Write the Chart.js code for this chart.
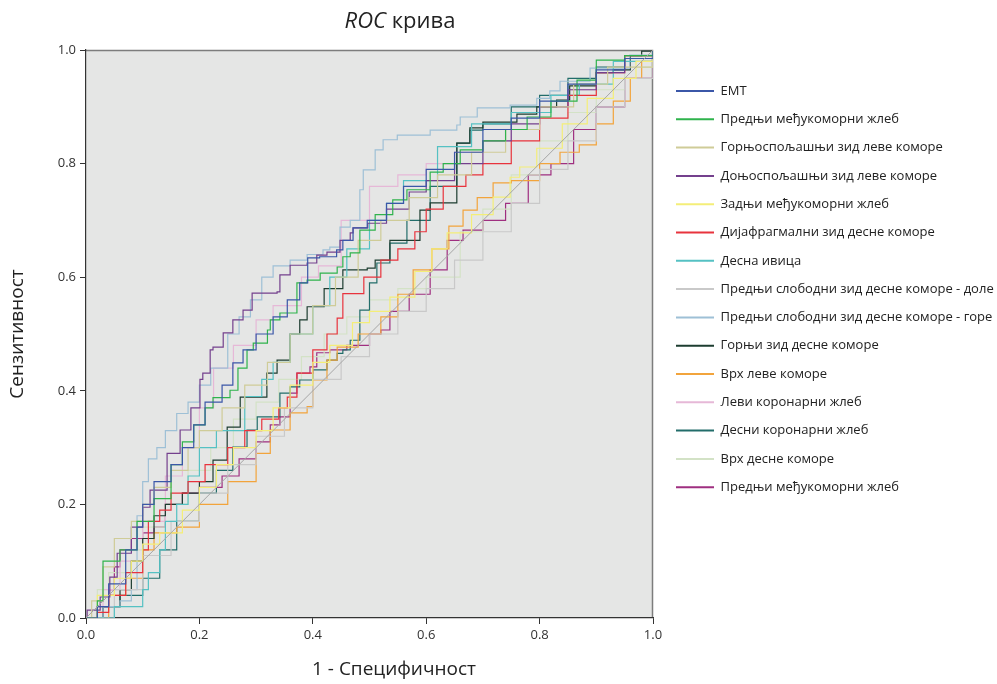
<!DOCTYPE html>
<html><head><meta charset="utf-8">
<script src="https://cdn.jsdelivr.net/npm/chart.js@4"></script>
<style>html,body{margin:0;padding:0;background:#fff}#wrap{width:997px;height:684px}</style>
</head><body><div id="wrap"><canvas id="c" width="997" height="684"></canvas></div>
<script>
const seriesNames = ["EMT","Предњи међукоморни жлеб","Горњоспољашњи зид леве коморе","Доњоспољашњи зид леве коморе","Задњи међукоморни жлеб","Дијафрагмални зид десне коморе","Десна ивица","Предњи слободни зид десне коморе - доле","Предњи слободни зид десне коморе - горе","Горњи зид десне коморе","Врх леве коморе","Леви коронарни жлеб","Десни коронарни жлеб","Врх десне коморе","Предњи међукоморни жлеб"];
const tickLabels = ["0.0","0.2","0.4","0.6","0.8","1.0"];

const fprEMT = [0,0.02,0.04,0.07,0.09,0.1,0.12,0.15,0.17,0.19,0.21,0.24,0.259,0.277,0.3,0.33,0.355,0.377,0.391,0.412,0.442,0.453,0.471,0.496,0.53,0.56,0.6,0.65,0.7,0.75,0.8,0.85,0.9,0.95,1];
const tprEMT = [0,0.02,0.06,0.12,0.16,0.2,0.24,0.27,0.3,0.34,0.38,0.41,0.449,0.472,0.5,0.53,0.56,0.59,0.634,0.636,0.648,0.665,0.687,0.70,0.73,0.76,0.79,0.82,0.86,0.88,0.91,0.94,0.965,0.985,1];

const fprAIV = [0,0.02,0.03,0.06,0.09,0.12,0.15,0.17,0.19,0.21,0.224,0.254,0.268,0.284,0.295,0.32,0.325,0.342,0.372,0.39,0.413,0.443,0.453,0.466,0.483,0.51,0.541,0.566,0.607,0.63,0.66,0.7,0.74,0.778,0.82,0.866,0.9,0.95,1];
const tprAIV = [0,0.03,0.1,0.12,0.17,0.21,0.27,0.31,0.34,0.37,0.388,0.401,0.44,0.472,0.484,0.507,0.525,0.537,0.59,0.595,0.607,0.618,0.636,0.643,0.683,0.71,0.736,0.754,0.785,0.80,0.824,0.84,0.86,0.882,0.91,0.947,0.982,0.99,1];

const fprULV = [0,0.01,0.03,0.05,0.08,0.1,0.12,0.15,0.18,0.2,0.24,0.28,0.32,0.36,0.4,0.44,0.48,0.52,0.57,0.62,0.68,0.74,0.8,0.86,0.92,1];
const tprULV = [0,0.03,0.09,0.14,0.17,0.2,0.23,0.26,0.3,0.33,0.37,0.41,0.45,0.5,0.55,0.6,0.665,0.7,0.74,0.78,0.82,0.86,0.9,0.94,0.97,1];

const fprLLV = [0,0.002,0.025,0.042,0.055,0.08,0.1,0.113,0.143,0.166,0.185,0.201,0.206,0.219,0.224,0.242,0.259,0.277,0.293,0.337,0.342,0.36,0.39,0.407,0.425,0.448,0.466,0.471,0.497,0.53,0.57,0.6,0.65,0.7,0.75,0.8,0.85,0.9,0.95,1];
const tprLLV = [0,0.014,0.037,0.072,0.114,0.16,0.195,0.225,0.29,0.331,0.37,0.42,0.431,0.472,0.477,0.502,0.525,0.542,0.572,0.574,0.604,0.621,0.625,0.639,0.644,0.665,0.678,0.687,0.695,0.72,0.75,0.77,0.80,0.84,0.87,0.9,0.93,0.96,0.985,1];

const fprPIV = [0,0.02,0.05,0.08,0.1,0.13,0.17,0.2,0.23,0.26,0.3,0.33,0.36,0.4,0.43,0.47,0.5,0.536,0.58,0.61,0.637,0.68,0.718,0.748,0.765,0.795,0.84,0.884,0.93,0.97,1];
const tprPIV = [0,0.04,0.07,0.1,0.13,0.15,0.19,0.23,0.27,0.3,0.33,0.37,0.41,0.45,0.48,0.52,0.54,0.565,0.61,0.65,0.678,0.71,0.741,0.776,0.794,0.827,0.87,0.915,0.95,0.98,1];

const fprDRV = [0,0.02,0.04,0.07,0.1,0.11,0.13,0.15,0.18,0.21,0.25,0.28,0.31,0.34,0.355,0.372,0.4,0.425,0.425,0.443,0.453,0.466,0.49,0.52,0.55,0.58,0.6,0.63,0.67,0.7,0.75,0.8,0.85,0.9,0.95,1];
const tprDRV = [0,0.01,0.04,0.08,0.12,0.17,0.19,0.22,0.24,0.27,0.3,0.33,0.35,0.37,0.389,0.431,0.472,0.472,0.5,0.528,0.571,0.571,0.6,0.63,0.65,0.68,0.72,0.76,0.78,0.8,0.84,0.88,0.92,0.96,0.99,1];

const fprRM = [0,0.05,0.1,0.11,0.13,0.14,0.16,0.18,0.2,0.23,0.28,0.31,0.33,0.36,0.4,0.43,0.46,0.5,0.53,0.56,0.62,0.68,0.75,0.82,0.87,0.93,1];
const tprRM = [0,0.02,0.05,0.08,0.12,0.17,0.2,0.25,0.3,0.33,0.39,0.42,0.45,0.5,0.55,0.6,0.65,0.7,0.73,0.77,0.83,0.87,0.89,0.92,0.94,0.98,1];

const fprAFL = [0,0.05,0.1,0.15,0.2,0.25,0.3,0.35,0.4,0.45,0.5,0.55,0.6,0.65,0.7,0.75,0.8,0.85,0.9,0.95,1];
const tprAFL = [0,0.05,0.11,0.17,0.22,0.27,0.32,0.37,0.42,0.46,0.5,0.54,0.58,0.63,0.68,0.73,0.79,0.84,0.9,0.95,1];

const fprAFU = [0,0.03,0.06,0.08,0.09,0.09,0.1,0.11,0.125,0.14,0.16,0.18,0.2,0.22,0.25,0.27,0.29,0.31,0.33,0.36,0.39,0.418,0.43,0.448,0.466,0.483,0.489,0.51,0.524,0.549,0.607,0.654,0.66,0.69,0.748,0.795,0.818,0.836,0.889,0.959,1];
const tprAFU = [0,0.02,0.03,0.05,0.1,0.18,0.24,0.28,0.3,0.33,0.36,0.38,0.41,0.44,0.5,0.53,0.56,0.6,0.62,0.63,0.64,0.648,0.653,0.688,0.70,0.754,0.789,0.824,0.842,0.85,0.859,0.868,0.882,0.898,0.903,0.915,0.928,0.945,0.968,0.991,1];

const fprSRV = [0,0.03,0.06,0.08,0.1,0.12,0.14,0.17,0.2,0.224,0.249,0.272,0.312,0.319,0.337,0.36,0.377,0.39,0.42,0.453,0.496,0.51,0.536,0.589,0.607,0.654,0.654,0.677,0.7,0.76,0.795,0.83,0.853,0.9,0.93,0.96,0.98,1];
const tprSRV = [0,0.02,0.05,0.1,0.14,0.18,0.2,0.22,0.24,0.278,0.336,0.389,0.389,0.431,0.454,0.5,0.525,0.548,0.58,0.613,0.616,0.63,0.665,0.718,0.731,0.783,0.836,0.863,0.873,0.887,0.9,0.912,0.937,0.96,0.965,0.99,0.998,1];

const fprALV = [0,0.03,0.04,0.07,0.1,0.12,0.16,0.2,0.25,0.3,0.325,0.354,0.36,0.39,0.4,0.425,0.443,0.48,0.52,0.55,0.577,0.61,0.64,0.665,0.69,0.718,0.75,0.8,0.836,0.87,0.9,0.93,0.96,0.98,1];
const tprALV = [0,0.0,0.04,0.07,0.12,0.15,0.16,0.2,0.24,0.29,0.331,0.331,0.361,0.372,0.419,0.454,0.477,0.5,0.53,0.57,0.613,0.65,0.69,0.718,0.74,0.766,0.77,0.8,0.82,0.833,0.87,0.91,0.95,0.98,1];

const fprLCS = [0,0.03,0.06,0.1,0.14,0.17,0.2,0.225,0.26,0.3,0.33,0.38,0.41,0.45,0.5,0.55,0.6,0.65,0.7,0.75,0.8,0.85,0.9,0.95,1];
const tprLCS = [0,0.05,0.1,0.17,0.25,0.3,0.37,0.44,0.48,0.525,0.55,0.6,0.62,0.7,0.76,0.78,0.8,0.82,0.84,0.86,0.9,0.93,0.96,0.99,1];

const fprRCS = [0,0.03,0.06,0.1,0.13,0.16,0.2,0.23,0.259,0.284,0.302,0.342,0.36,0.377,0.4,0.425,0.443,0.453,0.466,0.483,0.5,0.513,0.536,0.566,0.607,0.654,0.677,0.7,0.75,0.8,0.85,0.9,0.95,1];
const tprRCS = [0,0.02,0.04,0.07,0.12,0.17,0.22,0.26,0.301,0.331,0.354,0.396,0.407,0.419,0.437,0.454,0.466,0.472,0.489,0.542,0.59,0.625,0.66,0.70,0.76,0.836,0.859,0.87,0.9,0.92,0.95,0.97,0.99,1];

const fprRA = [0,0.02,0.04,0.07,0.1,0.14,0.18,0.22,0.26,0.3,0.34,0.38,0.42,0.46,0.5,0.55,0.6,0.66,0.66,0.7,0.75,0.8,0.85,0.9,0.95,1];
const tprRA = [0,0.05,0.08,0.12,0.16,0.2,0.26,0.3,0.35,0.38,0.42,0.46,0.5,0.53,0.56,0.58,0.6,0.61,0.68,0.72,0.78,0.84,0.89,0.93,0.97,1];

const fprAIV2 = [0,0.02,0.04,0.05,0.06,0.08,0.1,0.12,0.14,0.17,0.2,0.24,0.27,0.3,0.325,0.342,0.36,0.372,0.395,0.407,0.43,0.46,0.5,0.52,0.536,0.57,0.607,0.637,0.665,0.7,0.74,0.78,0.82,0.86,0.9,0.95,1];
const tprAIV2 = [0,0.02,0.05,0.09,0.12,0.14,0.15,0.16,0.2,0.22,0.23,0.25,0.28,0.31,0.34,0.354,0.396,0.431,0.442,0.467,0.472,0.48,0.5,0.507,0.54,0.57,0.613,0.665,0.683,0.7,0.73,0.78,0.8,0.86,0.9,0.95,1];

const refX = [0,1];
const refY = [0,1];

const fprList = [fprEMT,fprAIV,fprULV,fprLLV,fprPIV,fprDRV,fprRM,fprAFL,fprAFU,fprSRV,fprALV,fprLCS,fprRCS,fprRA,fprAIV2];
const tprList = [tprEMT,tprAIV,tprULV,tprLLV,tprPIV,tprDRV,tprRM,tprAFL,tprAFU,tprSRV,tprALV,tprLCS,tprRCS,tprRA,tprAIV2];
const colors = ["#3b57a8","#2fb34c","#cfcc98","#74408d","#f4ee78","#e8333d","#55c1c3","#c9c9c9","#9ec0d6","#1d3d30","#f2a43c","#e6b8d7","#226d6a","#d3e2c6","#9f2f80"];

const pts = (xs, ys) => xs.map((x, i) => ({x: x, y: ys[i]}));
const datasets = [{
  label: "ref", data: pts(refX, refY), borderColor: "#a5a5a5", backgroundColor: "#a5a5a5",
  borderWidth: 1, pointRadius: 0, showLine: true, fill: false
}];
seriesNames.forEach((n, i) => datasets.push({
  label: n, data: pts(fprList[i], tprList[i]), borderColor: colors[i], backgroundColor: colors[i],
  borderWidth: 1.2, pointRadius: 0, showLine: true, fill: false, stepped: 'before'
}));

const bgPlugin = {
  id: 'bg',
  beforeDraw(chart) {
    const {ctx, chartArea: a} = chart;
    ctx.save();
    ctx.fillStyle = '#e5e6e5';
    ctx.fillRect(a.left, a.top, a.right - a.left, a.bottom - a.top);
    ctx.strokeStyle = '#7d7d7d'; ctx.lineWidth = 1.5;
    ctx.beginPath();
    ctx.moveTo(a.left, a.top + 0.5); ctx.lineTo(a.right - 0.5, a.top + 0.5); ctx.lineTo(a.right - 0.5, a.bottom);
    ctx.stroke();
    ctx.restore();
  },
  afterDraw(chart) {
    const {ctx} = chart;
    ctx.save();
    ctx.fillStyle = '#222';
    ctx.textBaseline = 'middle';
    const t1 = 'ROC', t2 = ' крива';
    ctx.font = 'italic 22px "Open Sans"';
    const w1 = ctx.measureText(t1).width;
    ctx.font = '22px "Open Sans"';
    const w2 = ctx.measureText(t2).width;
    const cx = 400, x0 = cx - (w1 + w2) / 2;
    ctx.textAlign = 'left';
    ctx.font = 'italic 22px "Open Sans"';
    ctx.fillText(t1, x0, 22);
    ctx.font = '22px "Open Sans"';
    ctx.fillText(t2, x0 + w1, 22);
    ctx.font = '19px "Open Sans"';
    ctx.textAlign = 'center';
    ctx.fillText('1 - Специфичност', 394, 670);
    ctx.restore();
  }
};

new Chart(document.getElementById('c'), {
  type: 'scatter',
  data: {datasets},
  options: {
    responsive: false, animation: false, devicePixelRatio: 1,
    layout: {padding: {top: 50, left: 0, right: 0, bottom: 0}},
    plugins: {
      tooltip: {enabled: false},
      legend: {
        position: 'right', align: 'start', maxWidth: 336.3,
        title: {display: true, text: ' ', font: {size: 10, lineHeight: 1}, padding: {top: 0, bottom: 9.2}},
        labels: {
          boxWidth: 38, boxHeight: 2, padding: 15.3, color: '#222',
          font: {family: '"Open Sans"', size: 13},
          generateLabels(chart) {
            return chart.data.datasets.map((d, i) => ({
              text: d.label, fillStyle: d.borderColor, strokeStyle: d.borderColor, lineWidth: 0,
              hidden: false, datasetIndex: i, fontColor: '#222'
            })).filter(l => l.text !== 'ref');
          }
        },
        onClick: null
      }
    },
    scales: {
      x: {
        type: 'linear', min: 0, max: 1,
        afterFit(s) { s.height = 66; },
        afterBuildTicks(s) { s.ticks = tickLabels.map(v => ({value: parseFloat(v)})); },
        ticks: {callback: (v) => tickLabels.find(t => parseFloat(t) === v), color: '#333', padding: 3, font: {family: '"Open Sans"', size: 13}, maxRotation: 0},
        grid: {drawOnChartArea: false, drawTicks: true, tickLength: 6, color: '#333'},
        border: {display: true, color: '#333', width: 1.2}
      },
      y: {
        type: 'linear', min: 0, max: 1,
        afterFit(s) { s.width = 86; },
        afterBuildTicks(s) { s.ticks = tickLabels.map(v => ({value: parseFloat(v)})); },
        ticks: {callback: (v) => tickLabels.find(t => parseFloat(t) === v), color: '#333', padding: 4, font: {family: '"Open Sans"', size: 13}},
        grid: {drawOnChartArea: false, drawTicks: true, tickLength: 6, color: '#333'},
        border: {display: true, color: '#333', width: 1.2},
        title: {display: true, text: 'Сензитивност', color: '#222', font: {family: '"Open Sans"', size: 19}, padding: {top: 6, bottom: 0}}
      },
      yr: {
        type: 'linear', position: 'right', display: true, min: 0, max: 1,
        afterFit(s) { s.width = 7.7; },
        ticks: {display: false}, grid: {display: false}, border: {display: false}
      }
    }
  },
  plugins: [bgPlugin]
});
</script>
</body></html>
